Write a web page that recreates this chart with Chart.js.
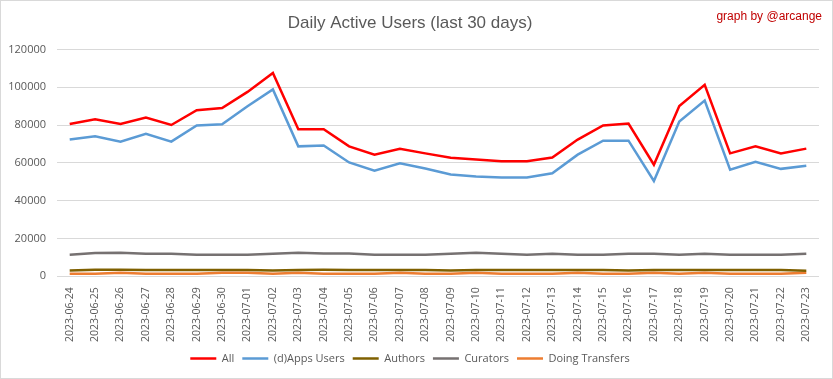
<!DOCTYPE html>
<html>
<head>
<meta charset="utf-8">
<script src="https://cdn.jsdelivr.net/npm/chart.js@4/dist/chart.umd.min.js"></script>
<style>
  html, body { margin: 0; padding: 0; background: #fff; }
  #wrap { width: 833px; height: 379px; box-sizing: border-box; border: 1px solid #d9d9d9; position: relative; }
</style>
</head>
<body>
<div id="wrap"><canvas id="chart"></canvas></div>
<script>
var days = [
    "2023-06-24", "2023-06-25", "2023-06-26", "2023-06-27", "2023-06-28", "2023-06-29",
    "2023-06-30", "2023-07-01", "2023-07-02", "2023-07-03", "2023-07-04", "2023-07-05",
    "2023-07-06", "2023-07-07", "2023-07-08", "2023-07-09", "2023-07-10", "2023-07-11",
    "2023-07-12", "2023-07-13", "2023-07-14", "2023-07-15", "2023-07-16", "2023-07-17",
    "2023-07-18", "2023-07-19", "2023-07-20", "2023-07-21", "2023-07-22", "2023-07-23"
];
var allUsers = [80500, 83000, 80500, 84000, 80000, 87800, 89000, 97500, 107500, 77800,
    77800, 68700, 64300, 67400, 65000, 62700, 61800, 60800, 60800, 62800,
    72300, 79800, 80800, 59000, 90000, 101300, 65000, 68700, 65000, 67500];
var appsUsers = [72300, 74000, 71200, 75400, 71200, 79800, 80400, 89900, 98800, 68700,
    69200, 60200, 55800, 59700, 57000, 53800, 52800, 52200, 52200, 54500,
    64300, 71700, 71700, 50400, 81800, 92900, 56300, 60500, 56800, 58400];
var authors = [3000, 3400, 3400, 3300, 3300, 3300, 3300, 3300, 3000, 3300,
    3400, 3300, 3300, 3300, 3300, 3000, 3300, 3300, 3300, 3300,
    3300, 3300, 3000, 3300, 3300, 3300, 3300, 3300, 3300, 2900];
var curators = [11300, 12300, 12400, 11900, 11900, 11400, 11400, 11400, 11900, 12400,
    12000, 12000, 11400, 11400, 11400, 11900, 12400, 11900, 11400, 11900,
    11400, 11400, 11900, 11900, 11400, 11900, 11400, 11400, 11400, 11900];
var transfers = [1300, 1300, 1800, 1300, 1300, 1300, 1800, 1800, 1300, 1800,
    1300, 1300, 1300, 1800, 1300, 1300, 1800, 1300, 1300, 1300,
    1800, 1300, 1300, 1800, 1300, 1800, 1300, 1300, 1300, 1800];
var yTicks = [0, 20000, 40000, 60000, 80000, 100000, 120000];

var txtColor = '#595959';

// petit texte rouge en haut a droite
var signature = {
    id: 'signature',
    afterDraw: function(chart) {
        var ctx = chart.ctx;
        ctx.save();
        ctx.font = '12px "Liberation Sans", sans-serif';
        ctx.fillStyle = '#c00000';
        ctx.textAlign = 'right';
        ctx.textBaseline = 'middle';
        ctx.fillText('graph by @arcange', 821, 16);
        ctx.restore();
    }
};

function serie(label, data, color, width) {
    return {
        label: label,
        data: data,
        borderColor: color,
        backgroundColor: color,
        borderWidth: width,
        pointRadius: 0,
        pointHoverRadius: 0,
        tension: 0,
        fill: false
    };
}

var ctx = document.getElementById('chart').getContext('2d');
var myChart = new Chart(ctx, {
    type: 'line',
    data: {
        labels: days,
        datasets: [
            serie('All', allUsers, '#ff0000', 2.5),
            serie('(d)Apps Users', appsUsers, '#5b9bd5', 2.5),
            serie('Authors', authors, '#7f6000', 2.5),
            serie('Curators', curators, '#767171', 2.5),
            serie('Doing Transfers', transfers, '#ed7d31', 2.5)
        ]
    },
    options: {
        responsive: true,
        maintainAspectRatio: false,
        animation: false,
        layout: { padding: { left: 0, right: 13, top: 0, bottom: 4 } },
        plugins: {
            title: {
                display: true,
                text: 'Daily Active Users (last 30 days)',
                color: txtColor,
                font: { family: '"Liberation Sans", sans-serif', size: 17, weight: 'normal' },
                padding: { top: 12, bottom: 16 }
            },
            legend: {
                position: 'bottom',
                labels: {
                    usePointStyle: true,
                    pointStyle: 'line',
                    pointStyleWidth: 26,
                    color: txtColor,
                    font: { family: '"Open Sans", sans-serif', size: 11 },
                    padding: 8
                }
            },
            tooltip: { enabled: false }
        },
        scales: {
            x: {
                offset: true,
                grid: { display: false },
                border: { display: false },
                ticks: {
                    color: txtColor,
                    minRotation: 90,
                    maxRotation: 90,
                    autoSkip: false,
                    padding: 3,
                    font: { family: '"Open Sans", sans-serif', size: 10.5 }
                }
            },
            y: {
                min: 0,
                max: 120000,
                afterBuildTicks: function(axis) {
                    axis.ticks = yTicks.map(function(v) { return { value: v }; });
                },
                afterFit: function(axis) {
                    axis.width = 56;
                },
                grid: { color: '#d9d9d9', drawTicks: false },
                border: { display: false },
                ticks: {
                    color: txtColor,
                    padding: 11,
                    callback: function(v) { return String(v); },
                    font: { family: '"Open Sans", sans-serif', size: 11 }
                }
            }
        }
    },
    plugins: [signature]
});
</script>
</body>
</html>
